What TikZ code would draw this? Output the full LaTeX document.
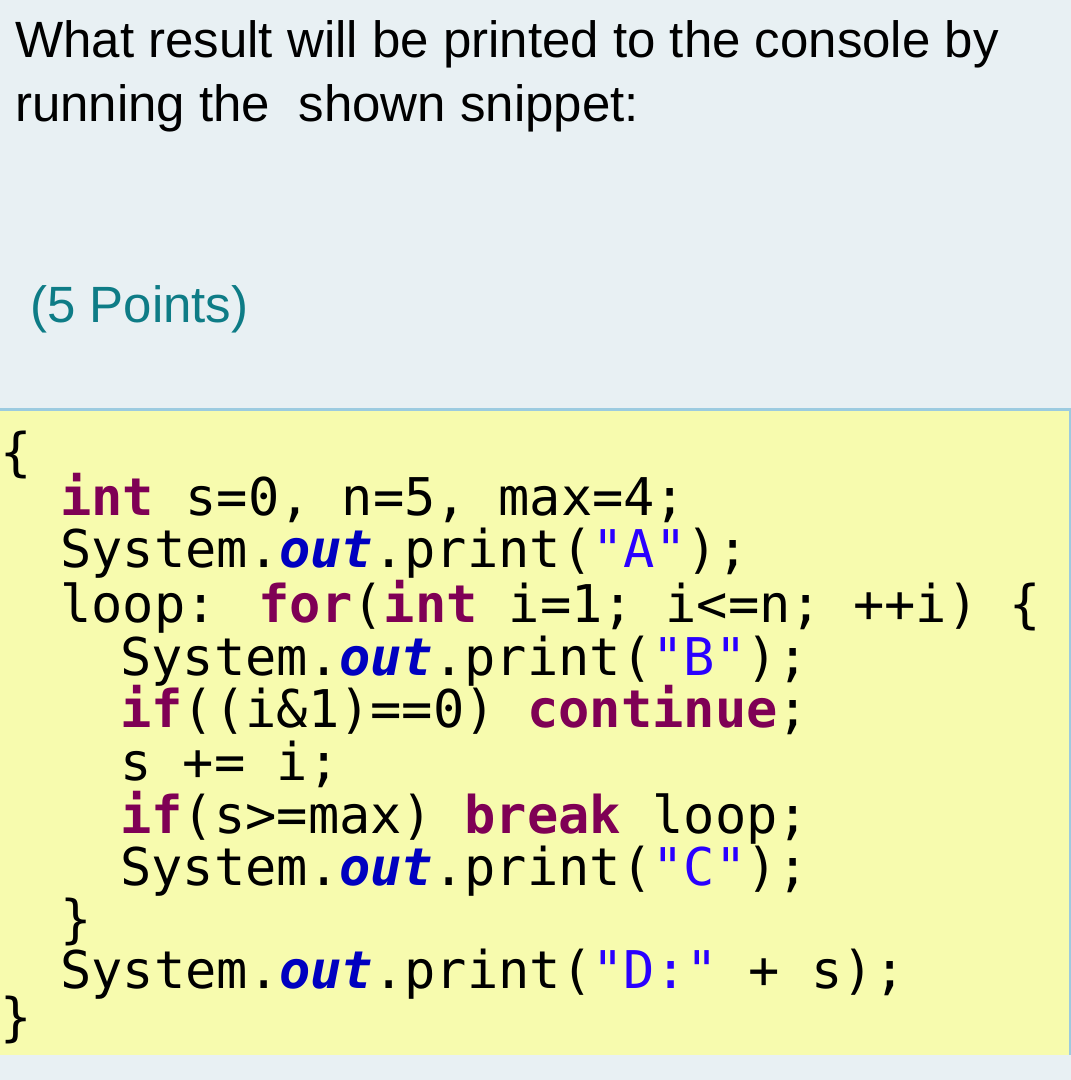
\documentclass[tikz,border=0pt]{standalone}
\usepackage{fontspec}
\setmainfont{Liberation Sans}
\newfontfamily\codefont{DejaVu Sans Mono}
\definecolor{bg}{HTML}{E8F0F3}
\definecolor{ylw}{HTML}{F7FBAE}
\definecolor{teal}{HTML}{0E7C86}
\definecolor{kw}{HTML}{7F0055}
\definecolor{fld}{HTML}{0000C0}
\definecolor{str}{HTML}{2A00FF}
\definecolor{edge}{HTML}{9CCBE0}
\newcommand{\kw}[1]{\textcolor{kw}{\textbf{#1}}}
\newcommand{\fo}{\textcolor{fld}{\textbf{\textit{out}}}}
\newcommand{\st}[1]{\textcolor{str}{#1}}
\begin{document}
\begin{tikzpicture}[x=1pt,y=-1pt,
  txt/.style={anchor=base west,inner sep=0pt},
  code/.style={txt,font=\codefont\fontsize{52}{60}\selectfont}]
\fill[bg] (0,0) rectangle (1071,1080);
\useasboundingbox (0,0) rectangle (1071,1080);
\fill[ylw] (0,408) rectangle (1071,1055);
\draw[edge,line width=3pt] (0,409) -- (1071,409);
\draw[edge,line width=2pt] (1070,409) -- (1070,1055);
\node[txt,font=\fontsize{51}{60}\selectfont] (t1) at (15,57) {What result will be printed to the console by};
\node[txt,font=\fontsize{51}{60}\selectfont] (t2) at (15,121) {running the\ \ shown snippet:};
\node[txt,font=\fontsize{51}{60}\selectfont,text=teal] (pts) at (30,322) {(5 Points)};
\node[code] (l0) at (0,470) {\{};
\node[code] (l1) at (60,515) {\kw{int} s=0, n=5, max=4;};
\node[code] (l2) at (60,567) {System.\fo.print(\st{"A"});};
\node[code] (l3) at (60,622) {loop: \kw{for}(\kw{int} i=1; i<=n; ++i) \{};
\node[code] (l4) at (120,675) {System.\fo.print(\st{"B"});};
\node[code] (l5) at (120,727) {\kw{if}((i\&1)==0) \kw{continue};};
\node[code] (l6) at (120,780) {s += i;};
\node[code] (l7) at (120,833) {\kw{if}(s>=max) \kw{break} loop;};
\node[code] (l8) at (120,885) {System.\fo.print(\st{"C"});};
\node[code] (l9) at (60,937) {\}};
\node[code] (l10) at (60,988) {System.\fo.print(\st{"D:"} + s);};
\node[code] (l11) at (0,1035) {\}};
\end{tikzpicture}
\end{document}
